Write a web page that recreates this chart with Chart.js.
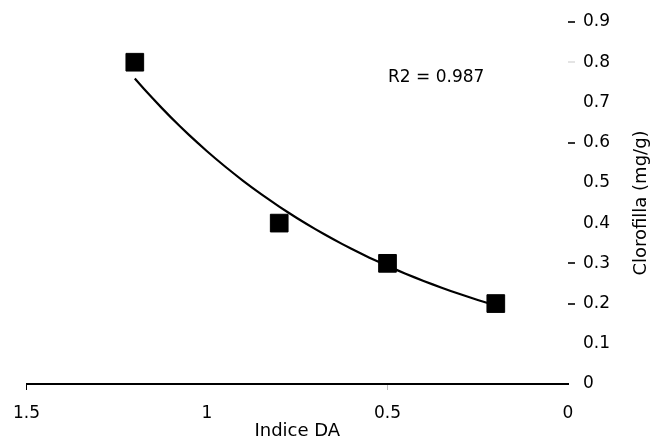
<!DOCTYPE html>
<html>
<head>
<meta charset="utf-8">
<script src="https://cdn.jsdelivr.net/npm/chart.js@4"></script>
<style>
  html, body { margin: 0; padding: 0; background: #fff; }
  #wrap { width: 651px; height: 440px; }
</style>
</head>
<body>
<div id="wrap"><canvas id="chart" width="651" height="440"></canvas></div>
<script>
// measured samples: Indice DA vs chlorophyll (mg/g)
const indiceDA = [1.2, 0.8, 0.5, 0.2];
const clorofilla = [0.8, 0.4, 0.3, 0.2];
const xTicks = [1.5, 1, 0.5, 0];
const yTicks = [0, 0.1, 0.2, 0.3, 0.4, 0.5, 0.6, 0.7, 0.8, 0.9];
const r2Label = 'R2 = 0.987';

const FONT = '"DejaVu Sans", Arial, sans-serif';

// exponential trendline y = a * e^(b x), least squares on ln(y)
function expFit (xs, ys) {
  const n = xs.length;
  const ly = ys.map(v => Math.log(v));
  const mx = xs.reduce((s, v) => s + v, 0) / n;
  const my = ly.reduce((s, v) => s + v, 0) / n;
  let sxx = 0, sxy = 0;
  for (let i = 0; i < n; i++) {
    sxx += (xs[i] - mx) * (xs[i] - mx);
    sxy += (xs[i] - mx) * (ly[i] - my);
  }
  const b = sxy / sxx;
  return { a: Math.exp(my - b * mx), b: b };
}

const fit = expFit(indiceDA, clorofilla);
const xLo = Math.min(...indiceDA), xHi = Math.max(...indiceDA);
const trend = [];
for (let i = 0; i <= 40; i++) {
  const x = xLo + (xHi - xLo) * i / 40;
  trend.push({ x: x, y: fit.a * Math.exp(fit.b * x) });
}

// axis titles and the R2 note, drawn straight on the canvas
const labelsPlugin = {
  id: 'labels',
  afterDraw (chart) {
    const ctx = chart.ctx;
    const area = chart.chartArea;
    ctx.save();
    ctx.fillStyle = '#000';
    ctx.textBaseline = 'middle';

    ctx.font = '18px ' + FONT;
    ctx.textAlign = 'center';
    ctx.fillText('Indice DA', (area.left + area.right) / 2, 431);

    ctx.font = '17px ' + FONT;
    ctx.textAlign = 'left';
    ctx.fillText(r2Label, 388, 78);

    ctx.font = '18px ' + FONT;
    ctx.translate(641, (area.top + area.bottom) / 2);
    ctx.rotate(-Math.PI / 2);
    ctx.textAlign = 'center';
    ctx.fillText('Clorofilla (mg/g)', 0, 0);
    ctx.restore();
  }
};

function xTickColor (c) {
  if (!c.tick) return 'rgba(0,0,0,0)';
  if (c.tick.value === 1.5) return '#000';
  if (c.tick.value === 0.5) return '#bbb';
  return 'rgba(0,0,0,0)';
}

function yTickColor (c) {
  if (!c.tick) return 'rgba(0,0,0,0)';
  const v = Math.round(c.tick.value * 10);
  if ([9, 6, 3, 2].includes(v)) return '#333';
  if (v === 8) return '#e4e4e4';
  return 'rgba(0,0,0,0)';
}

const chart = new Chart(document.getElementById('chart'), {
  type: 'scatter',
  data: {
    datasets: [
      {
        label: 'Clorofilla',
        data: indiceDA.map((x, i) => ({ x: x, y: clorofilla[i] })),
        pointStyle: 'rect',
        pointRadius: 12.5,
        pointHoverRadius: 12.5,
        backgroundColor: '#000',
        borderColor: '#000',
        borderWidth: 1,
        order: 1
      },
      {
        type: 'line',
        label: 'trend',
        data: trend,
        borderColor: '#000',
        borderWidth: 2.2,
        pointRadius: 0,
        fill: false,
        tension: 0,
        order: 2
      }
    ]
  },
  options: {
    responsive: false,
    animation: false,
    layout: { padding: { left: 25, top: 22, right: 0, bottom: 0 } },
    plugins: {
      legend: { display: false },
      tooltip: { enabled: false }
    },
    scales: {
      x: {
        type: 'linear',
        reverse: true,
        min: 0,
        max: 1.5,
        afterBuildTicks: s => { s.ticks = xTicks.map(v => ({ value: v })); },
        afterFit: s => { s.height = 56; },
        border: { display: true, color: '#000', width: 2 },
        grid: { drawOnChartArea: false, drawTicks: true, tickLength: 6, color: xTickColor },
        ticks: {
          color: '#000',
          font: { family: FONT, size: 17 },
          padding: 13,
          maxRotation: 0,
          callback: v => String(v)
        }
      },
      y: {
        type: 'linear',
        position: 'right',
        min: 0,
        max: 0.9,
        afterBuildTicks: s => { s.ticks = yTicks.map(v => ({ value: v })); },
        afterFit: s => { s.width = 83; },
        border: { display: false },
        grid: { drawOnChartArea: false, drawTicks: true, tickLength: 7, color: yTickColor, lineWidth: 2 },
        ticks: {
          color: '#000',
          font: { family: FONT, size: 17 },
          padding: 8,
          callback: v => (v === 0 ? '0' : v.toFixed(1))
        }
      }
    }
  },
  plugins: [labelsPlugin]
});
</script>
</body>
</html>
